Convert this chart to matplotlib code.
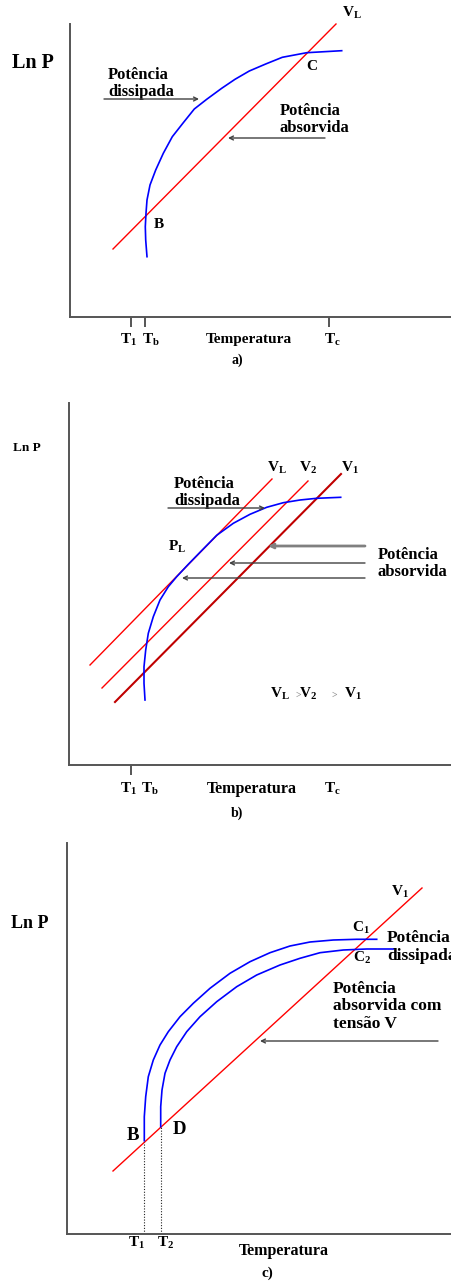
import matplotlib
matplotlib.use("Agg")
import matplotlib.pyplot as plt

plt.rcParams["font.family"] = ["Liberation Serif", "DejaVu Serif"]
plt.rcParams["font.weight"] = "bold"
plt.rcParams["mathtext.fontset"] = "custom"
plt.rcParams["mathtext.rm"] = "Liberation Serif:bold"
plt.rcParams["mathtext.it"] = "Liberation Serif:bold"
plt.rcParams["mathtext.bf"] = "Liberation Serif:bold"

# ---------------- panel a) ----------------
a_line_T = [43, 266]
a_line_P = [68, 293]
a_diss_T = [77, 75.7, 75.3, 76, 77, 80, 85.7, 93.3, 102.3, 113.3, 124.3,
            136.7, 151.7, 165, 179.3, 195.7, 212.3, 236.7, 271.7]
a_diss_P = [60.3, 77, 90.3, 103.7, 117, 132, 147, 163.7, 180.3, 194.3, 208,
            217.7, 228.7, 237.7, 246, 253, 259.7, 264.3, 266.3]
a_ticks = [61, 75, 259]
a_tick_labels = ["T$_1$", "T$_b$", "T$_c$"]

# ---------------- panel b) ----------------
b_VL_T = [21, 203]
b_VL_P = [100, 286]
b_V2_T = [33, 239]
b_V2_P = [77, 284]
b_V1_T = [46, 272]
b_V1_P = [63, 291]
b_diss_T = [76, 75, 75, 76.7, 79.3, 84.3, 91, 99.3, 107.7, 119.3, 131, 147.7,
            164.3, 181, 197.7, 214.3, 231, 247.7, 271.7]
b_diss_P = [65, 81.7, 98.3, 115, 131.7, 148.3, 165, 178.3, 188.3, 200.7, 212.7,
            229.7, 241.7, 250.7, 257.7, 262.3, 265, 266.7, 267.7]
b_ticks = [62]
b_tick_labels = ["T$_1$", "T$_b$", "T$_c$"]

# ---------------- panel c) ----------------
c_line_T = [46, 355]
c_line_P = [63, 346]
c_diss1_T = [77.3, 77.3, 78.7, 81.3, 86.3, 93, 101.3, 113, 126.3, 143, 163,
             183, 203, 223, 243, 266.3, 289.7, 309.7]
c_diss1_P = [93.3, 117.3, 137.3, 157.3, 174, 189, 202.3, 217.3, 230.7, 245.7,
             260.7, 272.3, 281.3, 288, 292, 294, 294.7, 294.7]
c_diss2_T = [93.7, 93.7, 95, 98, 103, 109.7, 119.7, 133, 149.7, 169.7, 189.7,
             213, 233, 253, 276.3, 299.7, 326.3]
c_diss2_P = [107.3, 127.3, 144, 160.7, 174, 187.3, 202.3, 217.3, 232.3, 247.3,
             259, 269, 275.7, 281.3, 284, 285, 285]
c_T1, c_P1 = 77.3, 92
c_T2, c_P2 = 93.7, 107
c_tick_labels = ["T$_1$", "T$_2$"]

W, H = 452, 1283
fig = plt.figure(figsize=(W / 100, H / 100), dpi=100)
fig.patch.set_facecolor("white")

AXC = "#555555"
RED = "#ff0000"
DARKRED = "#c00000"
BLUE = "#0000ff"
ARC = "#404040"


def panel(ox, oy, top):
    ax = fig.add_axes([ox / W, 1 - oy / H, (W - ox) / W, (oy - top) / H])
    ax.set_xlim(0, W - ox)
    ax.set_ylim(0, oy - top)
    for s in ("top", "right"):
        ax.spines[s].set_visible(False)
    for s in ("left", "bottom"):
        ax.spines[s].set_color(AXC)
        ax.spines[s].set_linewidth(1.4)
    ax.set_yticks([])
    ax.set_xticks([])
    ax.patch.set_alpha(0)
    return ax


def txt(ax, x, y, s, size, ha="center", va="center", **kw):
    ax.text(x, y, s, fontsize=size, ha=ha, va=va, fontweight="bold",
            clip_on=False, **kw)


def arrow(ax, x0, y0, x1, y1, color=ARC, lw=1.0):
    ax.annotate("", xy=(x1, y1), xytext=(x0, y0), annotation_clip=False,
                arrowprops=dict(arrowstyle="->", color=color, lw=lw,
                                shrinkA=0, shrinkB=0, mutation_scale=7))


# ---- a)
ax = panel(70, 317, 24)
ax.plot(a_line_T, a_line_P, color=RED, lw=1.0, clip_on=False)
ax.plot(a_diss_T, a_diss_P, color=BLUE, lw=1.2, clip_on=False)
ax.set_xticks(a_ticks)
ax.tick_params(axis="x", length=7.5, width=1.4, color=AXC, labelbottom=False)
for x, s in zip([59, 81, 262], a_tick_labels):
    txt(ax, x, -23, s, 11)
txt(ax, 179, -23, "Temperatura", 11)
txt(ax, 167, -43, "a)", 10)
txt(ax, -37, 254, "Ln P", 14.5)
txt(ax, 282, 304, "V$_L$", 11)
txt(ax, 242, 251, "C", 11)
txt(ax, 89, 92, "B", 11)
txt(ax, 38, 233.5, "Potência\ndissipada", 12, ha="left", linespacing=1.12)
arrow(ax, 34, 218, 129, 218)
txt(ax, 210, 197.5, "Potência\nabsorvida", 12, ha="left", linespacing=1.12)
arrow(ax, 255, 179, 158, 179)

# ---- b)
ax = panel(69, 765, 403)
ax.plot(b_VL_T, b_VL_P, color=RED, lw=1.0, clip_on=False)
ax.plot(b_V2_T, b_V2_P, color=RED, lw=1.0, clip_on=False)
ax.plot(b_V1_T, b_V1_P, color=DARKRED, lw=1.5, clip_on=False)
ax.plot(b_diss_T, b_diss_P, color=BLUE, lw=1.2, clip_on=False)
ax.set_xticks(b_ticks)
ax.tick_params(axis="x", length=7.5, width=1.4, color=AXC, labelbottom=False)
for x, s in zip([60, 81, 263], b_tick_labels):
    txt(ax, x, -24, s, 11)
txt(ax, 183, -24, "Temperatura", 11.5)
txt(ax, 168, -48, "b)", 10)
txt(ax, -42, 317, "Ln P", 9.5)
txt(ax, 208, 297, "V$_L$", 11)
txt(ax, 239, 297, "V$_2$", 11)
txt(ax, 281, 297, "V$_1$", 11)
txt(ax, 108, 218, "P$_L$", 11)
txt(ax, 105, 272.5, "Potência\ndissipada", 12, ha="left", linespacing=1.12)
arrow(ax, 99, 257, 196, 257)
txt(ax, 309, 201.5, "Potência\nabsorvida", 12, ha="left", linespacing=1.12)
arrow(ax, 296, 219, 199, 219, color="#808080", lw=2.0)
arrow(ax, 296, 202, 160, 202)
arrow(ax, 296, 187, 113, 187)
txt(ax, 211, 71, "V$_L$", 11)
txt(ax, 229.5, 70, ">", 7, color="#909090")
txt(ax, 239, 71, "V$_2$", 11)
txt(ax, 265, 70, ">", 7, color="#909090")
txt(ax, 284, 71, "V$_1$", 11)

# ---- c)
ax = panel(67, 1234, 843)
ax.plot(c_line_T, c_line_P, color=RED, lw=1.0, clip_on=False)
ax.plot(c_diss1_T, c_diss1_P, color=BLUE, lw=1.2, clip_on=False)
ax.plot(c_diss2_T, c_diss2_P, color=BLUE, lw=1.2, clip_on=False)
ax.plot([c_T1, c_T1], [0, c_P1], color="#222222", lw=0.8, ls=(0, (1, 1.5)))
ax.plot([c_T2, c_T2], [0, c_P2], color="#222222", lw=0.8, ls=(0, (1, 1.5)))
for x, s in zip([70, 99], c_tick_labels):
    txt(ax, x, -9, s, 11)
txt(ax, 217, -17, "Temperatura", 11.5)
txt(ax, 200, -39, "c)", 11)
txt(ax, -37, 311, "Ln P", 13)
txt(ax, 333, 342, "V$_1$", 11)
txt(ax, 294, 306, "C$_1$", 11)
txt(ax, 295, 276, "C$_2$", 11)
txt(ax, 66, 98, "B", 13.5)
txt(ax, 112, 104, "D", 13.5)
txt(ax, 320, 287, "Potência\ndissipada", 12.5, ha="left", linespacing=1.1)
txt(ax, 266, 227.5, "Potência\nabsorvida com\ntensão V", 12.5, ha="left",
    linespacing=1.12)
arrow(ax, 371, 193, 193, 193)

fig.savefig("out.png", dpi=100, facecolor="white")
